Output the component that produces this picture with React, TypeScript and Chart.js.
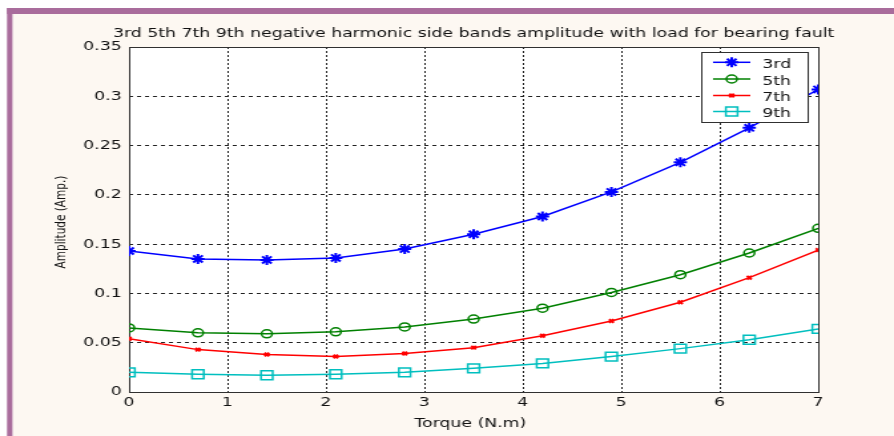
import { useEffect, useRef } from 'react';
import { Chart, registerables } from 'chart.js';
import { drawPoint } from 'chart.js/helpers';

Chart.register(...registerables);

// ---- data ----
const torque = [0, 0.7, 1.4, 2.1, 2.8, 3.5, 4.2, 4.9, 5.6, 6.3, 7];
const harmonic3 = [0.143, 0.135, 0.134, 0.136, 0.145, 0.16, 0.178, 0.203, 0.233, 0.268, 0.307];
const harmonic5 = [0.065, 0.06, 0.059, 0.061, 0.066, 0.074, 0.085, 0.101, 0.119, 0.141, 0.166];
const harmonic7 = [0.054, 0.043, 0.038, 0.036, 0.039, 0.045, 0.057, 0.072, 0.091, 0.116, 0.144];
const harmonic9 = [0.02, 0.018, 0.017, 0.018, 0.02, 0.024, 0.029, 0.036, 0.044, 0.053, 0.064];
const seriesNames = ['3rd', '5th', '7th', '9th'];
const xTickLabels = ['0', '1', '2', '3', '4', '5', '6', '7'];
const yTickLabels = ['0', '0.05', '0.1', '0.15', '0.2', '0.25', '0.3', '0.35'];
const titleText = '3rd 5th 7th 9th negative harmonic side bands amplitude with load for bearing fault';
const xTitle = 'Torque (N.m)';
const yTitle = 'Amplitude (Amp.)';

// ---- geometry / style ----
const W = 672;
const H = 436;
const CSS_W = 894;
const FONT = '"DejaVu Sans", sans-serif';
const PURPLE = '#a96c9c';
const CREAM = '#fdf8f2';

const seriesStyles = [
  { color: '#0000ff', pointStyle: 'star', radius: 5, pbw: 2, fill: '#0000ff' },
  { color: '#008000', pointStyle: 'circle', radius: 4, pbw: 1.5, fill: 'rgba(0,0,0,0)' },
  { color: '#ff0000', pointStyle: 'crossRot', radius: 2.5, pbw: 2, fill: '#ff0000' },
  { color: '#00bfbf', pointStyle: 'rect', radius: 6.2, pbw: 1.5, fill: 'rgba(0,0,0,0)' },
];

const decor = {
  id: 'decor',
  beforeDraw(chart: any) {
    const { ctx, chartArea: a } = chart;
    ctx.save();
    ctx.fillStyle = '#ffffff';
    ctx.fillRect(0, 0, W, H);
    ctx.fillStyle = PURPLE;
    ctx.fillRect(5.3, 8, W, 6);
    ctx.fillRect(5.3, 8, 4.3, H);
    ctx.fillStyle = CREAM;
    ctx.fillRect(9.6, 14, W, H);
    ctx.fillStyle = '#ffffff';
    ctx.fillRect(a.left, a.top, a.right - a.left, a.bottom - a.top);
    ctx.restore();
  },
  beforeDatasetsDraw(chart: any) {
    const { ctx, chartArea: a } = chart;
    ctx.save();
    ctx.strokeStyle = '#303030';
    ctx.lineWidth = 1;
    ctx.strokeRect(a.left + 0.5, a.top + 0.5, a.right - a.left, a.bottom - a.top);
    ctx.restore();
  },
  afterDraw(chart: any) {
    const { ctx, chartArea: a } = chart;
    ctx.save();
    ctx.fillStyle = '#111';
    // title
    ctx.font = `13px ${FONT}`;
    ctx.textAlign = 'center';
    ctx.textBaseline = 'alphabetic';
    ctx.fillText(titleText, (a.left + a.right) / 2, 36.5);
    // x title
    ctx.fillText(xTitle, 353.5, 427);
    // y title
    ctx.save();
    ctx.translate(48.5, 222);
    ctx.rotate(-Math.PI / 2);
    ctx.font = `10.5px ${FONT}`;
    ctx.fillText(yTitle, 0, 0);
    ctx.restore();

    // legend
    const lx = 527.5, ly = 52.5, lw = 80, lh = 70;
    ctx.fillStyle = '#ffffff';
    ctx.fillRect(lx, ly, lw, lh);
    ctx.strokeStyle = '#303030';
    ctx.lineWidth = 1;
    ctx.strokeRect(lx, ly, lw, lh);
    const rows = [62.3, 79, 95.5, 111.5];
    chart.data.datasets.forEach((ds: any, i: number) => {
      const st = seriesStyles[i];
      const y = rows[i];
      ctx.strokeStyle = st.color;
      ctx.lineWidth = 1.5;
      ctx.beginPath();
      ctx.moveTo(536, y);
      ctx.lineTo(564, y);
      ctx.stroke();
      ctx.fillStyle = st.fill;
      ctx.lineWidth = st.pbw;
      drawPoint(ctx, { pointStyle: st.pointStyle, radius: st.radius, rotation: 0, borderWidth: st.pbw } as any, 550, y);
      ctx.fillStyle = '#111';
      ctx.font = `13px ${FONT}`;
      ctx.textAlign = 'left';
      ctx.textBaseline = 'alphabetic';
      ctx.fillText(ds.label, 573, y + 5.5);
    });
    ctx.restore();
  },
};

export default function App() {
  const ref = useRef<HTMLCanvasElement | null>(null);
  useEffect(() => {
    if (!ref.current) return;
    const series = [harmonic3, harmonic5, harmonic7, harmonic9];
    const chart = new Chart(ref.current, {
      type: 'line',
      data: {
        datasets: series.map((vals, i) => ({
          label: seriesNames[i],
          data: torque.map((x, j) => ({ x, y: vals[j] })),
          borderColor: seriesStyles[i].color,
          backgroundColor: seriesStyles[i].fill,
          pointBackgroundColor: seriesStyles[i].fill,
          pointBorderColor: seriesStyles[i].color,
          pointStyle: seriesStyles[i].pointStyle as any,
          pointRadius: seriesStyles[i].radius,
          pointBorderWidth: seriesStyles[i].pbw,
          borderWidth: 1.5,
          tension: 0,
          fill: false,
        })),
      },
      options: {
        animation: false,
        responsive: false,
        devicePixelRatio: 1,
        layout: { padding: { left: 0, right: W - 615, top: 47, bottom: 0 } },
        plugins: { legend: { display: false }, title: { display: false }, tooltip: { enabled: false } },
        scales: {
          x: {
            type: 'linear',
            min: 0,
            max: 7,
            afterFit: (s: any) => { s.height = H - 392; },
            ticks: {
              stepSize: 1,
              color: '#111',
              font: { family: FONT, size: 13 },
              padding: 3,
              maxRotation: 0,
              callback: (_v: any, i: number) => xTickLabels[i],
            },
            grid: { color: '#222', lineWidth: 1, drawTicks: false },
            border: { display: false, dash: [2, 2] },
          },
          y: {
            type: 'linear',
            min: 0,
            max: 0.35,
            afterFit: (s: any) => { s.width = 97; },
            ticks: {
              stepSize: 0.05,
              color: '#111',
              font: { family: FONT, size: 13 },
              padding: 5.5,
              callback: (_v: any, i: number) => yTickLabels[i],
            },
            grid: { color: '#222', lineWidth: 1, drawTicks: false },
            border: { display: false, dash: [3, 3] },
          },
        },
      },
      plugins: [decor],
    });
    return () => chart.destroy();
  }, []);
  return (
    <div style={{ position: 'fixed', left: 0, top: 0, width: CSS_W, height: H }}>
      <canvas
        ref={ref}
        width={W}
        height={H}
        style={{ width: `${CSS_W}px`, height: `${H}px`, display: 'block' }}
      />
    </div>
  );
}
